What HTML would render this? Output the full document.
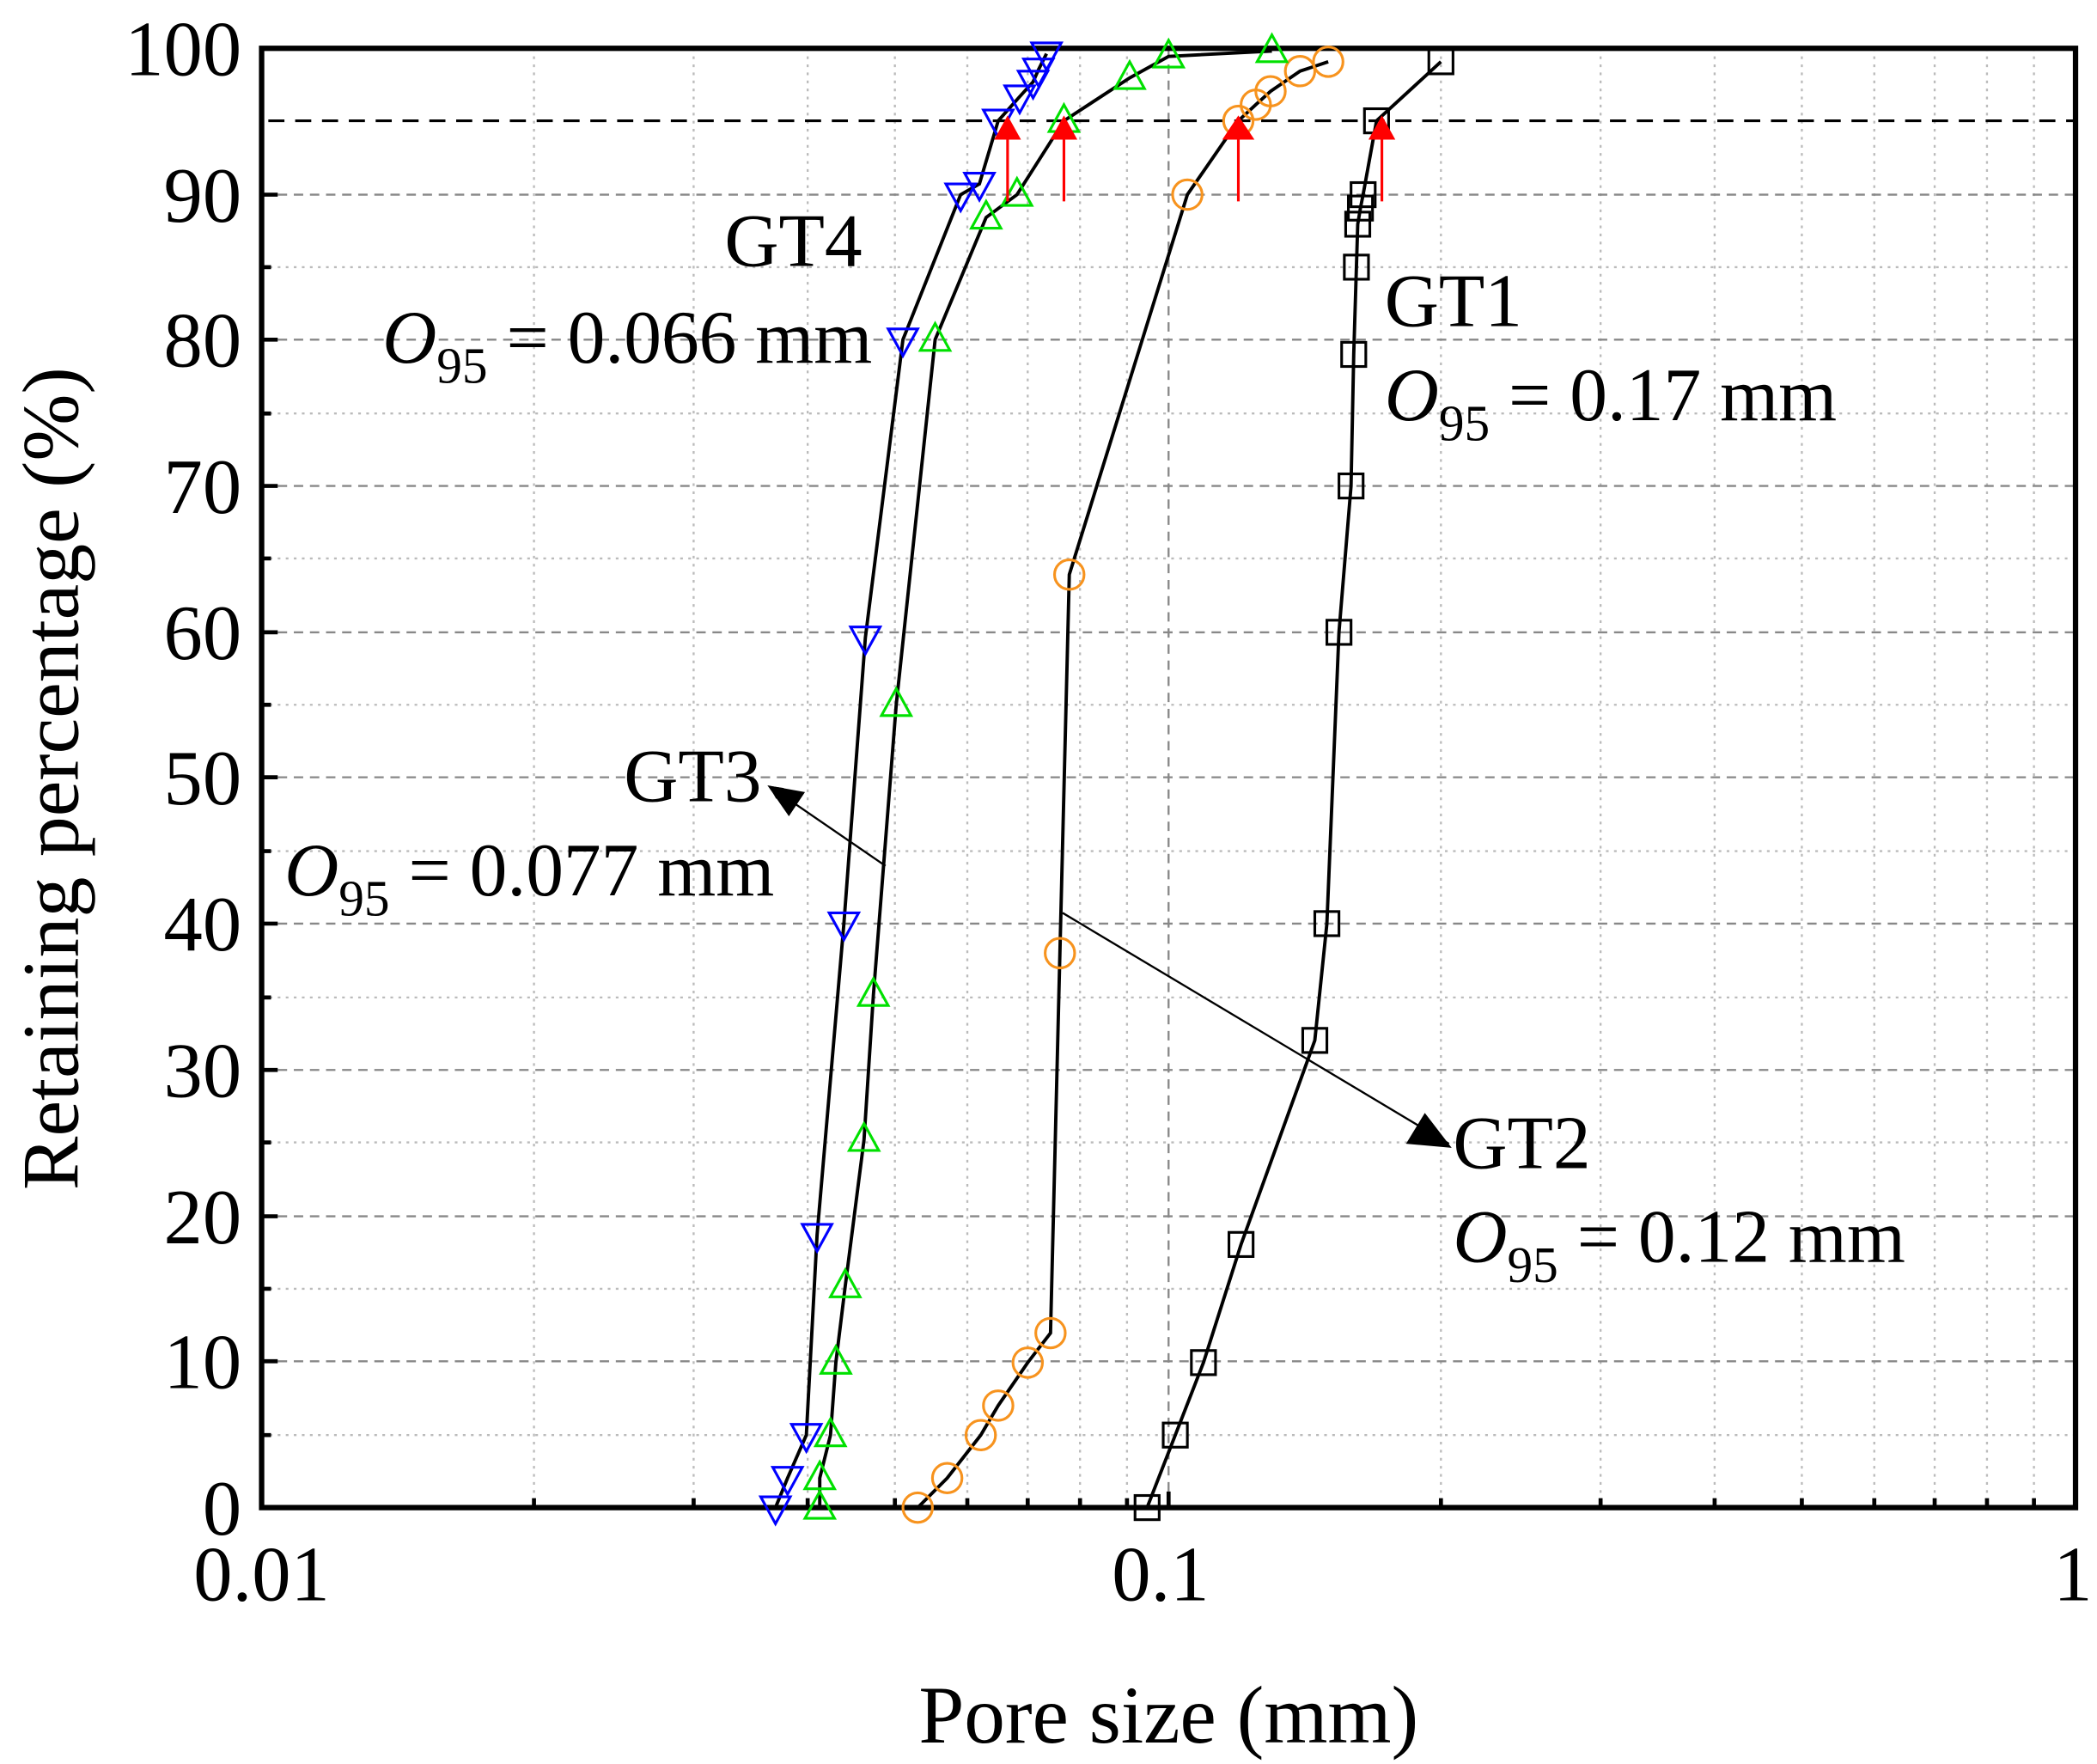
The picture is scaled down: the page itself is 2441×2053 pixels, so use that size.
<!DOCTYPE html>
<html><head><meta charset="utf-8"><style>html,body{margin:0;padding:0;background:#fff}svg{display:block}</style></head><body>
<svg width="2441" height="2053" viewBox="0 0 1563 1314" preserveAspectRatio="none" xmlns="http://www.w3.org/2000/svg" font-family="'Liberation Serif',serif">
<defs>
<marker id="ah" markerWidth="10" markerHeight="10" refX="9" refY="5" orient="auto" markerUnits="userSpaceOnUse" viewBox="0 0 10 10"><path d="M0,0 L10,5 L0,10 z" fill="#000"/></marker>
</defs>
<g stroke="#bbb" stroke-width="1.5" stroke-dasharray="2,4" fill="none">
<path d="M398,36V1123M517,36V1123M602,36V1123M667,36V1123M721,36V1123M766,36V1123M805,36V1123M840,36V1123M1074,36V1123M1193,36V1123M1278,36V1123M1343,36V1123M1397,36V1123M1442,36V1123M1481,36V1123M1516,36V1123"/>
<path d="M195,1069H1547M195,960H1547M195,851H1547M195,743H1547M195,634H1547M195,525H1547M195,416H1547M195,308H1547M195,199H1547"/>
</g>
<g stroke="#888" stroke-width="1.5" stroke-dasharray="7,5" fill="none">
<path d="M871,36V1123"/>
<path d="M195,1014H1547M195,906H1547M195,797H1547M195,688H1547M195,579H1547M195,471H1547M195,362H1547M195,253H1547M195,145H1547"/>
</g>
<path d="M200,90H1547" stroke="#000" stroke-width="2" stroke-dasharray="12,8"/>
<g stroke="#000" stroke-width="3">
<path d="M195,145h12M195,253h12M195,362h12M195,471h12M195,579h12M195,688h12M195,797h12M195,906h12M195,1014h12"/>
<path d="M195,199h7M195,308h7M195,416h7M195,525h7M195,634h7M195,743h7M195,851h7M195,960h7M195,1069h7"/>
<path d="M871,1123v-12M398,1123v-7M517,1123v-7M602,1123v-7M667,1123v-7M721,1123v-7M766,1123v-7M805,1123v-7M840,1123v-7M1074,1123v-7M1193,1123v-7M1278,1123v-7M1343,1123v-7M1397,1123v-7M1442,1123v-7M1481,1123v-7M1516,1123v-7"/>
</g>
<rect x="195" y="36" width="1352" height="1087" fill="none" stroke="#000" stroke-width="4"/>
<g fill="none" stroke="#000" stroke-width="2.5">
<polyline points="855,1123 876,1069 897,1015 925,927 980,775 989,688 998,471 1007,362 1009,264 1011,199 1012,167 1014,155 1016,145 1026,90 1074,46"/>
<polyline points="684,1123 706,1101 731,1069 744,1047 766,1015 783,993 790,710 797,428 885,145 923,90 936,78 947,68 969,53 990,46"/>
<polyline points="611,1123 611,1101 619,1069 623,1015 630,958 644,849 651,741 668,525 697,253 735,162 758,145 793,90 842,58 871,42 948,38"/>
<polyline points="578,1123 587,1101 601,1069 609,920 629,688 645,475 673,253 716,145 730,137 744,90 760,72 770,61 774,52 780,40"/>
</g>
<g fill="none" stroke="#000" stroke-width="2">
<rect x="846" y="1114" width="18" height="18"/><rect x="867" y="1060" width="18" height="18"/><rect x="888" y="1006" width="18" height="18"/><rect x="916" y="918" width="18" height="18"/><rect x="971" y="766" width="18" height="18"/><rect x="980" y="679" width="18" height="18"/><rect x="989" y="462" width="18" height="18"/><rect x="998" y="353" width="18" height="18"/><rect x="1000" y="255" width="18" height="18"/><rect x="1002" y="190" width="18" height="18"/><rect x="1003" y="158" width="18" height="18"/><rect x="1005" y="146" width="18" height="18"/><rect x="1007" y="136" width="18" height="18"/><rect x="1017" y="81" width="18" height="18"/><rect x="1065" y="37" width="18" height="18"/>
</g>
<g fill="none" stroke="#f7931e" stroke-width="2">
<circle cx="684" cy="1123" r="11"/><circle cx="706" cy="1101" r="11"/><circle cx="731" cy="1069" r="11"/><circle cx="744" cy="1047" r="11"/><circle cx="766" cy="1015" r="11"/><circle cx="783" cy="993" r="11"/><circle cx="790" cy="710" r="11"/><circle cx="797" cy="428" r="11"/><circle cx="885" cy="145" r="11"/><circle cx="923" cy="90" r="11"/><circle cx="936" cy="78" r="11"/><circle cx="947" cy="68" r="11"/><circle cx="969" cy="53" r="11"/><circle cx="990" cy="46" r="11"/>
</g>
<g fill="none" stroke="#00e000" stroke-width="2">
<path d="M611,1111l-11,20h22zM611,1089l-11,20h22zM619,1057l-11,20h22zM623,1003l-11,20h22zM630,946l-11,20h22zM644,837l-11,20h22zM651,729l-11,20h22zM668,513l-11,20h22zM697,241l-11,20h22zM735,150l-11,20h22zM758,133l-11,20h22zM793,78l-11,20h22zM842,46l-11,20h22zM871,30l-11,20h22zM948,26l-11,20h22z"/>
</g>
<g fill="none" stroke="#0000ff" stroke-width="2">
<path d="M578,1135l-11,-20h22zM587,1113l-11,-20h22zM601,1081l-11,-20h22zM609,932l-11,-20h22zM629,700l-11,-20h22zM645,487l-11,-20h22zM673,265l-11,-20h22zM716,157l-11,-20h22zM730,149l-11,-20h22zM744,102l-11,-20h22zM760,84l-11,-20h22zM770,73l-11,-20h22zM774,64l-11,-20h22zM780,52l-11,-20h22z"/>
</g>
<g stroke="#f00" stroke-width="2" fill="#f00">
<path d="M751,150V100M793,150V100M923,150V100M1030,150V100"/>
<path d="M751,86l-10,18h20zM793,86l-10,18h20zM923,86l-12,18h24zM1030,86l-10,18h20z" stroke="none"/>
</g>
<g stroke="#000" stroke-width="1.5">
<line x1="660" y1="645" x2="574" y2="586" marker-end="url(#ah)"/>
<line x1="792" y1="680" x2="1080" y2="852"/>
</g>
<path d="M1082,855 L1048,852 L1062,829 z" fill="#000"/>
<path d="M572,585 L600,590 L588,608 z" fill="#000"/>
<g font-size="58" fill="#000">
<g text-anchor="end">
<text x="180" y="1143">0</text><text x="180" y="1034">10</text><text x="180" y="926">20</text><text x="180" y="817">30</text><text x="180" y="708">40</text><text x="180" y="599">50</text><text x="180" y="491">60</text><text x="180" y="382">70</text><text x="180" y="273">80</text><text x="180" y="165">90</text><text x="180" y="56">100</text>
</g>
<g text-anchor="middle">
<text x="195" y="1192">0.01</text><text x="865" y="1192">0.1</text><text x="1545" y="1192">1</text>
<text x="871" y="1298" font-size="61">Pore size (mm)</text>
</g>
<text transform="translate(58,580) rotate(-90)" text-anchor="middle" font-size="60">Retaining percentage (%)</text>
<g font-size="56">
<text x="540" y="198">GT4</text>
<text x="285" y="270"><tspan font-style="italic">O</tspan><tspan font-size="38" dy="15">95</tspan><tspan dy="-15"> = 0.066 mm</tspan></text>
<text x="1032" y="243">GT1</text>
<text x="1032" y="313"><tspan font-style="italic">O</tspan><tspan font-size="38" dy="15">95</tspan><tspan dy="-15"> = 0.17 mm</tspan></text>
<text x="465" y="597">GT3</text>
<text x="212" y="667"><tspan font-style="italic">O</tspan><tspan font-size="38" dy="15">95</tspan><tspan dy="-15"> = 0.077 mm</tspan></text>
<text x="1083" y="870">GT2</text>
<text x="1083" y="940"><tspan font-style="italic">O</tspan><tspan font-size="38" dy="15">95</tspan><tspan dy="-15"> = 0.12 mm</tspan></text>
</g>
</g>
</svg>
</body></html>
